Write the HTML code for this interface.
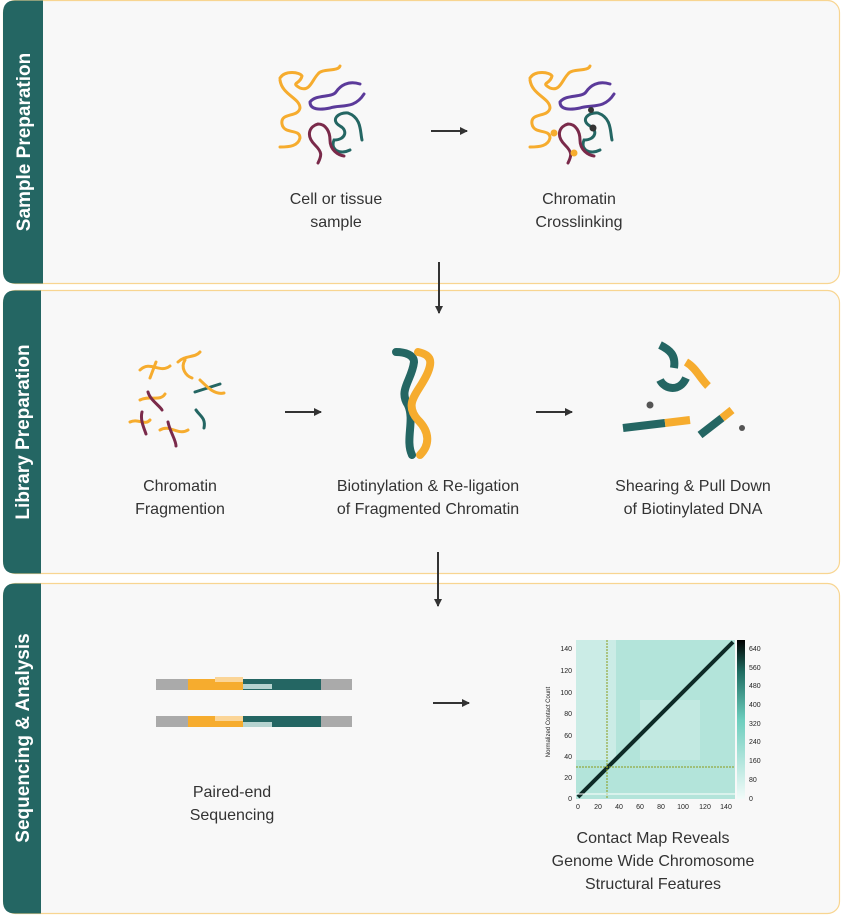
<!DOCTYPE html>
<html><head><meta charset="utf-8"><style>
html,body{margin:0;padding:0;background:#fff;}
svg{display:block;font-family:"Liberation Sans",sans-serif;}
</style></head><body>
<svg width="841" height="915" viewBox="0 0 841 915">
<defs>
<linearGradient id="cb" x1="0" y1="1" x2="0" y2="0">
<stop offset="0" stop-color="#f2fbf9"/><stop offset="0.5" stop-color="#6ccdbd"/><stop offset="0.8" stop-color="#1f6d62"/><stop offset="1" stop-color="#000"/></linearGradient>
<marker id="ah" markerWidth="8" markerHeight="8" refX="7" refY="4" orient="auto" markerUnits="userSpaceOnUse"><path d="M0,0 L8,4 L0,8 z" fill="#333"/></marker>
</defs>
<g stroke="#f8d591" stroke-width="1.2" fill="#f8f8f8">
<rect x="3.5" y="0.5" width="836" height="283" rx="12"/>
<rect x="3.5" y="290.5" width="836" height="283" rx="12"/>
<rect x="3.5" y="583.5" width="836" height="330" rx="12"/>
</g>
<g fill="#246663">
<path d="M15,0.5 H43 V283.5 H15 Q3,283.5 3,271 V13 Q3,0.5 15,0.5Z"/>
<path d="M15,290.5 H41 V573.5 H15 Q3,573.5 3,561 V303 Q3,290.5 15,290.5Z"/>
<path d="M15,583.5 H41 V913.5 H15 Q3,913.5 3,901 V596 Q3,583.5 15,583.5Z"/>
</g>
<g fill="#fff" font-weight="bold" font-size="19" text-anchor="middle">
<text transform="translate(30,142) rotate(-90)">Sample Preparation</text>
<text transform="translate(29,432) rotate(-90)">Library Preparation</text>
<text transform="translate(29,738) rotate(-90)">Sequencing &amp; Analysis</text>
</g>
<g fill="#333" font-size="16" text-anchor="middle">
<text x="336" y="204">Cell or tissue</text><text x="336" y="227">sample</text>
<text x="579" y="204">Chromatin</text><text x="579" y="227">Crosslinking</text>
<text x="180" y="491">Chromatin</text><text x="180" y="514">Fragmention</text>
<text x="428" y="491">Biotinylation &amp; Re-ligation</text><text x="428" y="514">of Fragmented Chromatin</text>
<text x="693" y="491">Shearing &amp; Pull Down</text><text x="693" y="514">of Biotinylated DNA</text>
<text x="232" y="797">Paired-end</text><text x="232" y="820">Sequencing</text>
<text x="653" y="843">Contact Map Reveals</text><text x="653" y="866">Genome Wide Chromosome</text><text x="653" y="889">Structural Features</text>
</g>
<g stroke="#333" stroke-width="2" fill="none" marker-end="url(#ah)">
<line x1="431" y1="131" x2="467" y2="131"/>
<line x1="439" y1="262" x2="439" y2="313"/>
<line x1="285" y1="412" x2="321" y2="412"/>
<line x1="536" y1="412" x2="572" y2="412"/>
<line x1="438" y1="552" x2="438" y2="606"/>
<line x1="433" y1="703" x2="469" y2="703"/>
</g>
<g fill="none" stroke-width="3" stroke-linecap="round">
<g id="sq">
<path d="M280,78 C285,70 300,72 302,76 C300,85 290,82 300,88 C310,92 312,80 318,74 C322,68 338,72 340,66" stroke="#f6ac2e"/>
<path d="M280,80 C282,95 300,98 300,108 C298,118 280,112 282,124 C284,135 300,128 300,138 C298,146 290,147 280,147" stroke="#f6ac2e"/>
<path d="M360,84 C348,80 340,86 336,92 C332,98 316,94 310,102 C310,110 320,110 330,108 C340,104 354,110 364,94" stroke="#5b3a9a"/>
<path d="M362,140 C360,132 362,118 348,113 C338,112 330,120 340,126 C348,130 346,140 334,140 C330,150 340,155 350,150" stroke="#246663"/>
<path d="M318,163 C322,155 322,152 315,145 C305,135 310,126 318,124 C326,124 330,132 330,140 C330,150 338,155 344,156" stroke="#7a2a4a"/>
</g>
<use href="#sq" transform="translate(250,0)"/>
</g>
<g fill="#f6ac2e"><circle cx="554" cy="133" r="3.5"/><circle cx="574" cy="153" r="3.5"/></g>
<g fill="#333"><circle cx="591" cy="110" r="3"/><circle cx="593" cy="128" r="3.5"/></g>
<g fill="none" stroke-width="3" stroke-linecap="round">
<path d="M140,370 C150,360 160,374 170,366" stroke="#f6ac2e"/><path d="M150,378 L156,362" stroke="#f6ac2e"/>
<path d="M178,362 C185,355 195,358 200,352" stroke="#f6ac2e"/><path d="M185,360 C180,368 186,376 192,378" stroke="#f6ac2e"/>
<path d="M195,392 L220,384" stroke="#246663"/><path d="M200,380 C208,388 215,395 224,393" stroke="#f6ac2e"/>
<path d="M140,400 C150,395 160,402 165,394" stroke="#f6ac2e"/><path d="M148,392 C150,400 160,406 162,410" stroke="#7a2a4a"/>
<path d="M130,422 C138,418 145,426 150,420" stroke="#f6ac2e"/><path d="M142,412 C140,420 144,428 146,434" stroke="#7a2a4a"/>
<path d="M160,430 C170,424 178,436 188,430" stroke="#f6ac2e"/><path d="M168,422 C170,432 176,440 176,446" stroke="#7a2a4a"/>
<path d="M196,410 C200,416 206,418 204,428" stroke="#246663"/>
</g>
<g fill="none" stroke-linecap="round" stroke-width="8">
<path d="M396,352 C405,352 414,355 414,362 C412,380 398,390 408,405 C415,420 405,440 412,455" stroke="#246663"/>
<path d="M418,352 C432,355 432,362 428,372 C420,392 402,402 418,420 C430,432 430,445 420,455" stroke="#f6ac2e"/>
</g>
<g stroke-width="8" fill="none" stroke-linecap="butt">
<path d="M660,345 C670,350 676,355 674,368" stroke="#246663"/>
<path d="M660,380 C665,390 680,392 686,378" stroke="#246663"/>
<path d="M686,362 C696,368 700,378 708,386" stroke="#f6ac2e"/>
<line x1="623" y1="428" x2="665" y2="423" stroke="#246663"/>
<line x1="665" y1="423" x2="690" y2="420" stroke="#f6ac2e"/>
<line x1="700" y1="435" x2="722" y2="418" stroke="#246663"/>
<line x1="722" y1="418" x2="732" y2="410" stroke="#f6ac2e"/>
</g>
<circle cx="650" cy="405" r="3.5" fill="#555"/><circle cx="742" cy="428" r="3" fill="#555"/>
<g>
<rect x="156" y="679" width="32" height="11" fill="#aaa"/><rect x="188" y="679" width="55" height="11" fill="#f6ac2e"/><rect x="243" y="679" width="78" height="11" fill="#246663"/><rect x="321" y="679" width="31" height="11" fill="#aaa"/>
<rect x="215" y="677" width="28" height="5" fill="#fbd597"/><rect x="243" y="684" width="29" height="5" fill="#b6d3d0"/>
<rect x="156" y="716" width="32" height="11" fill="#aaa"/><rect x="188" y="716" width="55" height="11" fill="#f6ac2e"/><rect x="243" y="716" width="78" height="11" fill="#246663"/><rect x="321" y="716" width="31" height="11" fill="#aaa"/>
<rect x="215" y="716" width="28" height="5" fill="#fbd597"/><rect x="243" y="722" width="29" height="5" fill="#b6d3d0"/>
</g>
<rect x="576" y="640" width="159" height="159" fill="#b3e4da"/>
<rect x="576" y="640" width="40" height="120" fill="#d6f0eb" opacity="0.7"/>
<rect x="640" y="700" width="60" height="60" fill="#cbece6" opacity="0.6"/>
<line x1="578" y1="797" x2="733" y2="642" stroke="#0d2a26" stroke-width="4"/>
<line x1="607" y1="640" x2="607" y2="799" stroke="#8a9a1a" stroke-width="1" stroke-dasharray="2,1"/>
<line x1="576" y1="767" x2="735" y2="767" stroke="#8a9a1a" stroke-width="1" stroke-dasharray="2,1"/>
<line x1="576" y1="794" x2="735" y2="794" stroke="#fff" stroke-width="1"/>
<rect x="737" y="640" width="8" height="159" fill="url(#cb)"/>
<g font-size="7" fill="#222">
<text x="572" y="651" text-anchor="end">140</text><text x="572" y="673" text-anchor="end">120</text><text x="572" y="695" text-anchor="end">100</text><text x="572" y="716" text-anchor="end">80</text><text x="572" y="738" text-anchor="end">60</text><text x="572" y="759" text-anchor="end">40</text><text x="572" y="780" text-anchor="end">20</text><text x="572" y="801" text-anchor="end">0</text>
<text x="578" y="809" text-anchor="middle">0</text><text x="598" y="809" text-anchor="middle">20</text><text x="619" y="809" text-anchor="middle">40</text><text x="640" y="809" text-anchor="middle">60</text><text x="661" y="809" text-anchor="middle">80</text><text x="683" y="809" text-anchor="middle">100</text><text x="705" y="809" text-anchor="middle">120</text><text x="726" y="809" text-anchor="middle">140</text>
<text x="749" y="651">640</text><text x="749" y="670">560</text><text x="749" y="688">480</text><text x="749" y="707">400</text><text x="749" y="726">320</text><text x="749" y="744">240</text><text x="749" y="763">160</text><text x="749" y="782">80</text><text x="749" y="801">0</text>
<text transform="translate(550,722) rotate(-90)" text-anchor="middle" font-size="6">Normalized Contact Count</text>
</g>
</svg>
</body></html>
